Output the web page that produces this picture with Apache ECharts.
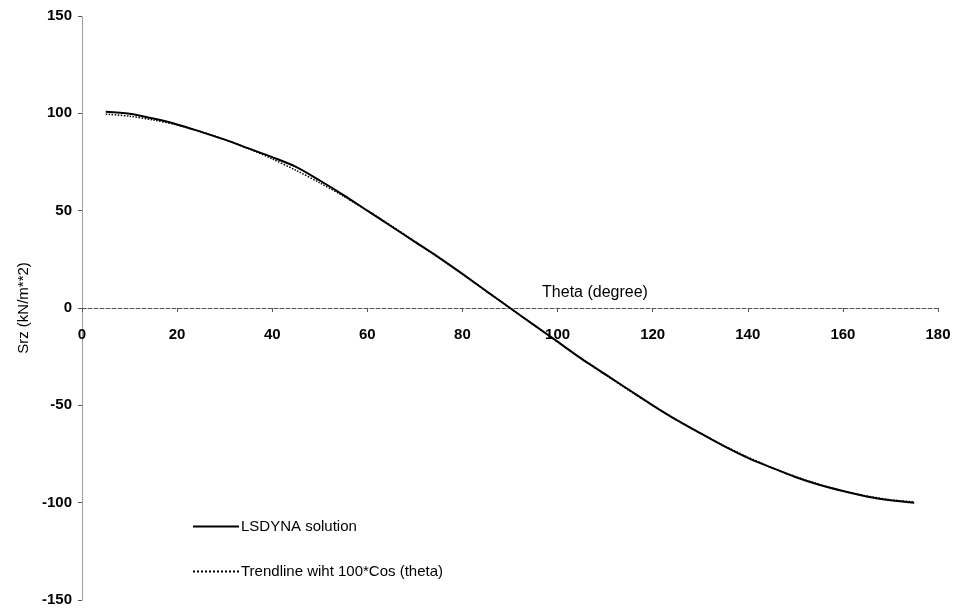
<!DOCTYPE html>
<html>
<head>
<meta charset="utf-8">
<script src="https://cdn.jsdelivr.net/npm/echarts@6/dist/echarts.min.js"></script>
<style>html,body{margin:0;padding:0;background:#fff;}#c{width:956px;height:614px;}</style>
</head>
<body>
<div id="c"></div>
<script>
const theta = [5,10,15,20,25,30,35,40,45,50,55,60,65,70,75,80,85,90,95,100,105,110,115,120,125,130,135,140,145,150,155,160,165,170,175];
const lsdyna = [100.8,99.8,97.3,94.3,90.5,86.5,82,77.5,72.5,65.5,58,50,42,34,26,17.5,8.7,0,-8.7,-17.3,-26,-34,-42,-50,-57.5,-64.3,-71,-77,-82,-86.8,-90.8,-94,-96.8,-98.8,-100];
const trend = [99.6,98.5,96.6,94,90.6,86.6,81.9,76.6,70.7,64.3,57.4,50,42.3,34.2,25.9,17.4,8.7,0,-8.7,-17.4,-25.9,-34.2,-42.3,-50,-57.4,-64.3,-70.7,-76.6,-81.9,-86.6,-90.6,-94,-96.6,-98.5,-99.6];
const xTicks = [0,20,40,60,80,100,120,140,160,180];
const yTicks = [-150,-100,-50,0,50,100,150];
const seriesNames = ['LSDYNA solution','Trendline wiht 100*Cos (theta)'];

const chart = echarts.init(document.getElementById('c'));
const font = '"Liberation Sans", Arial, sans-serif';
chart.setOption({
  animation:false,
  grid:{left:82,right:18,top:16,bottom:14},
  textStyle:{fontFamily:font},
  legend:{
    orient:'vertical', left:187, top:514, itemGap:30, itemWidth:46, itemHeight:14,
    itemStyle:{opacity:0},
    textStyle:{fontFamily:font,fontSize:15,color:'#000',padding:[0,0,0,-3]},
    data:seriesNames
  },
  xAxis:{
    type:'value', min:0, max:180, interval:20, position:'bottom', offset:-292,
    name:'Theta (degree)', nameLocation:'middle', nameGap:-23,
    nameTextStyle:{fontFamily:font,fontSize:16,color:'#000',padding:[0,0,0,170]},
    axisLine:{onZero:false,lineStyle:{color:'#555',width:1,type:'dashed'}},
    axisTick:{show:true,length:4,lineStyle:{color:'#555'}},
    axisLabel:{fontFamily:font,fontSize:15,color:'#000',fontWeight:'bold',margin:19,
      formatter:v=>xTicks.includes(v)?String(v):''},
    splitLine:{show:false}
  },
  yAxis:{
    type:'value', min:-150, max:150, interval:50,
    name:'Srz (kN/m**2)', nameLocation:'middle', nameGap:50,
    nameTextStyle:{fontFamily:font,fontSize:15,color:'#000'},
    axisLine:{onZero:false,lineStyle:{color:'#888',width:1,type:'dotted'}},
    axisTick:{show:true,length:4,lineStyle:{color:'#555'}},
    axisLabel:{fontFamily:font,fontSize:15,color:'#000',fontWeight:'bold',margin:10,
      formatter:v=>yTicks.includes(v)?String(v):''},
    splitLine:{show:false}
  },
  series:[
    {name:seriesNames[0],type:'line',data:theta.map((t,i)=>[t,lsdyna[i]]),showSymbol:false,symbol:'none',smooth:0.3,
      itemStyle:{color:'#000'},lineStyle:{color:'#000',width:2}},
    {name:seriesNames[1],type:'line',data:theta.map((t,i)=>[t,trend[i]]),showSymbol:false,symbol:'none',smooth:0.3,
      itemStyle:{color:'#000'},lineStyle:{color:'#000',width:1.5,type:'dotted'}}
  ]
});
</script>
</body>
</html>
